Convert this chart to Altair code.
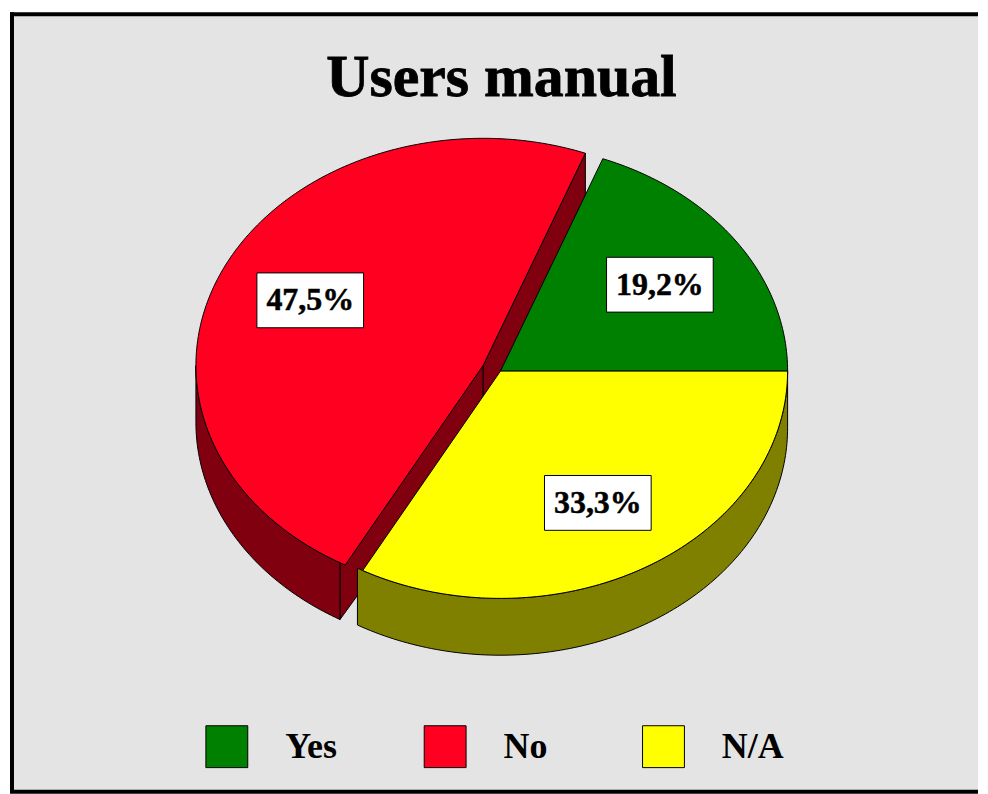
import math
import altair as alt
import pandas as pd

categories = ["Yes", "No", "N/A"]
shares = [19.2, 47.5, 33.3]
share_labels = ["19,2%", "47,5%", "33,3%"]
top_colors = ["#008000", "#ff0020", "#ffff00"]
side_colors = ["#004000", "#800010", "#808000"]
title_text = "Users manual"

SERIF = "Liberation Serif"
OX, OY = 8, 8          # page position of the plot area
W, H = 972, 786
RX, RY, DEPTH = 288, 228, 57
centers = [(501, 371), (483.5, 365.5), (501, 371)]
LABEL_R = 0.67
TOP_SKEW = 1.2         # the top faces meet the walls a little past the true angle
FRAME_LEFT, FRAME_TOP, FRAME_BOTTOM = 11, 13, 793

# slice angles from the shares, counter-clockwise from 3 o'clock
angles = [0.0]
for s in shares:
    angles.append(angles[-1] + s * 3.6)
top_angles = [angles[0], angles[1], angles[2] + TOP_SKEW, angles[3]]


def pt(c, a, r=1.0, drop=0.0):
    t = math.radians(a)
    return [c[0] + r * RX * math.cos(t), c[1] - r * RY * math.sin(t) + drop]


def arc(c, a0, a1, drop=0.0):
    n = max(2, int(abs(a1 - a0)) + 1)
    return [pt(c, a0 + (a1 - a0) * i / n, drop=drop) for i in range(n + 1)]


def feature(ring, key):
    return {
        "type": "Feature",
        "geometry": {"type": "Polygon", "coordinates": [ring + [ring[0]]]},
        "properties": {"key": key},
    }


def wedge(i):
    c = centers[i]
    return feature([list(c)] + arc(c, top_angles[i], top_angles[i + 1]), categories[i])


def wall(i, a0, a1):
    c = centers[i]
    return feature(arc(c, a0, a1) + arc(c, a1, a0, drop=DEPTH), "side" + str(i))


def face(i, a):
    c = centers[i]
    p = pt(c, a)
    return feature(
        [list(c), p, [p[0], p[1] + DEPTH], [c[0], c[1] + DEPTH]], "side" + str(i)
    )


sides = [
    face(1, angles[1]),
    face(1, angles[2]),
    wall(1, 180.0, angles[2]),
    wall(2, angles[2], 360.0),
]
tops = [wedge(1), wedge(0), wedge(2)]

PROJ = dict(type="identity", scale=1, translate=[-OX, -OY])

side_layer = (
    alt.Chart(alt.Data(values=sides))
    .mark_geoshape(stroke="black", strokeWidth=1)
    .encode(
        fill=alt.Fill(
            "properties.key:N",
            scale=alt.Scale(
                domain=["side0", "side1", "side2"], range=side_colors
            ),
            legend=None,
        )
    )
    .project(**PROJ)
)

top_layer = (
    alt.Chart(alt.Data(values=tops))
    .mark_geoshape(stroke="black", strokeWidth=1)
    .encode(
        fill=alt.Fill(
            "properties.key:N",
            scale=alt.Scale(domain=categories, range=top_colors),
            legend=alt.Legend(
                title=None,
                orient="none",
                legendX=205 - OX,
                legendY=726 - OY,
                direction="horizontal",
                columns=3,
                gridAlign="all",
                columnPadding=75,
                symbolType="square",
                symbolSize=1764,
                symbolStrokeColor="black",
                symbolStrokeWidth=1,
                symbolOpacity=1,
                labelOffset=37,
                labelFont=SERIF,
                labelFontWeight="bold",
                labelFontSize=36,
                labelColor="black",
                labelLimit=200,
            ),
        )
    )
    .project(**PROJ)
)

mid = [(angles[i] + angles[i + 1]) / 2 for i in range(3)]
label_xy = [pt(centers[i], mid[i], r=LABEL_R) for i in range(3)]
labels = pd.DataFrame(
    {
        "x": [p[0] + 1 for p in label_xy],
        "y": [p[1] for p in label_xy],
        "label": share_labels,
    }
)
xs = alt.Scale(domain=[OX, OX + W], range=[0, W])
ys = alt.Scale(domain=[OY, OY + H], range=[0, H])
X = alt.X("x:Q", scale=xs, axis=None)
Y = alt.Y("y:Q", scale=ys, axis=None)

panel_df = pd.DataFrame(
    {"x": [FRAME_LEFT], "x2": [OX + W], "y": [FRAME_TOP], "y2": [FRAME_BOTTOM]}
)
panel = (
    alt.Chart(panel_df)
    .mark_rect(fill="#e4e4e4")
    .encode(x=X, x2="x2:Q", y=Y, y2="y2:Q")
)
frame_df = pd.DataFrame(
    {
        "x": [FRAME_LEFT - 2, FRAME_LEFT - 2, FRAME_LEFT],
        "x2": [OX + W, OX + W, FRAME_LEFT],
        "y": [FRAME_TOP, FRAME_BOTTOM, FRAME_TOP - 2],
        "y2": [FRAME_TOP, FRAME_BOTTOM, FRAME_BOTTOM],
    }
)
frame = (
    alt.Chart(frame_df)
    .mark_rule(color="black", strokeWidth=4)
    .encode(x=X, x2="x2:Q", y=Y, y2="y2:Q")
)

boxes = (
    alt.Chart(labels)
    .mark_rect(width=107, height=55, fill="white", stroke="black", strokeWidth=1)
    .encode(x=X, y=Y)
)
box_text = (
    alt.Chart(labels)
    .mark_text(
        font=SERIF, fontWeight="bold", fontSize=32, color="black",
        baseline="middle", stroke="black", strokeWidth=0.5,
    )
    .encode(x=X, y=Y, text="label:N")
)
title_df = pd.DataFrame({"x": [502], "y": [95], "label": [title_text]})
title_mark = (
    alt.Chart(title_df)
    .mark_text(
        font=SERIF, fontWeight="bold", fontSize=60, color="black",
        baseline="alphabetic", stroke="black", strokeWidth=0.8,
    )
    .encode(x=X, y=Y, text="label:N")
)

chart = (
    alt.layer(panel, frame, side_layer, top_layer, boxes, box_text, title_mark)
    .resolve_scale(fill="independent")
    .properties(width=W, height=H, padding=0)
    .configure_view(stroke=None)
)
chart.save("out.html", embed_options={"renderer": "svg", "actions": False})
